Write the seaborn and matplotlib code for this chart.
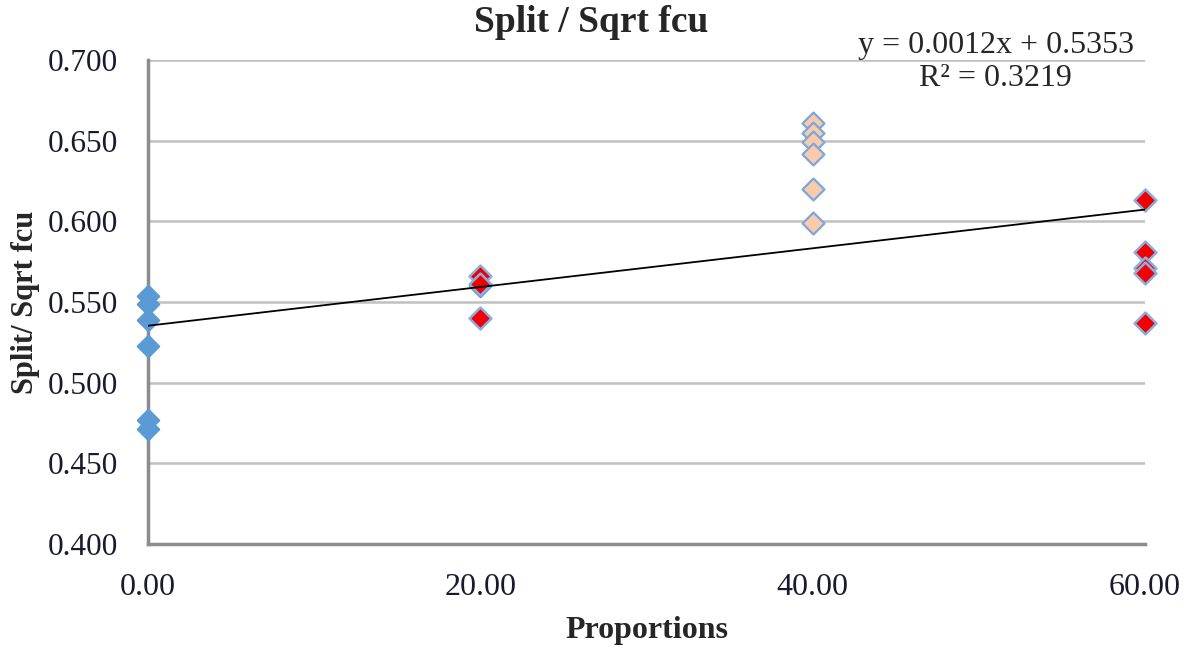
import numpy as np
import pandas as pd
import matplotlib
matplotlib.use("Agg")
import matplotlib.pyplot as plt
import seaborn as sns

# ---- data ----
x_blue = [0, 0, 0, 0, 0, 0, 20]
y_blue = [0.554, 0.549, 0.539, 0.523, 0.477, 0.471, 0.560]
x_peach = [40, 40, 40, 40, 40, 40]
y_peach = [0.661, 0.655, 0.649, 0.642, 0.620, 0.599]
x_red = [20, 20, 20, 60, 60, 60, 60, 60]
y_red = [0.566, 0.561, 0.540, 0.613, 0.581, 0.571, 0.568, 0.537]
slope, intercept = 0.0012, 0.5353
r2 = 0.3219

title = "Split / Sqrt fcu"
x_label = "Proportions"
y_label = "Split/ Sqrt fcu"
x_ticks = [0, 20, 40, 60]
y_ticks = [0.400, 0.450, 0.500, 0.550, 0.600, 0.650, 0.700]

sns.set_theme(style="white")
plt.rcParams['font.family'] = ['Liberation Serif', 'DejaVu Serif']

fig = plt.figure(figsize=(11.85, 6.46), dpi=100)
ax = fig.add_axes([0.1249, 0.1579, 0.9662 - 0.1249, 0.9071 - 0.1579])

df_b = pd.DataFrame({"x": x_blue, "y": y_blue})
df_p = pd.DataFrame({"x": x_peach, "y": y_peach})
df_r = pd.DataFrame({"x": x_red, "y": y_red})

ax.set_ylim(0.400, 0.700)
ax.set_xlim(0, 60)
ax.set_yticks(y_ticks)
ax.set_xticks(x_ticks)
ax.yaxis.grid(True, color="#C0C0C0", linewidth=1.8, zorder=0)
ax.set_axisbelow(True)

sns.scatterplot(data=df_b, x="x", y="y", marker="D", s=120, color="#5B9BD5",
                edgecolor="#5B9BD5", linewidth=1.5, ax=ax, zorder=3, clip_on=False)
sns.scatterplot(data=df_p, x="x", y="y", marker="D", s=125, color="#F8CBAD",
                edgecolor="#7EA6DA", linewidth=1.6, ax=ax, zorder=3, clip_on=False)
sns.scatterplot(data=df_r, x="x", y="y", marker="D", s=125, color="#F00000",
                edgecolor="#8AB0E0", linewidth=1.8, ax=ax, zorder=4, clip_on=False)

xs = np.array([min(x_ticks), max(x_ticks)])
ax.plot(xs, slope * xs + intercept, color="black", linewidth=1.3, zorder=5)

ax.set_yticklabels([f"{v:.3f}" for v in y_ticks])
ax.set_xticklabels([f"{v:.2f}" for v in x_ticks])
ax.tick_params(axis="both", labelsize=23, colors="#1a1a2e", length=0)
ax.tick_params(axis="y", labelsize=22.5, pad=21.5)
ax.tick_params(axis="x", pad=21)

for s in ["top", "right"]:
    ax.spines[s].set_visible(False)
for s in ["left", "bottom"]:
    ax.spines[s].set_color("#8C8C8C")
    ax.spines[s].set_linewidth(2.5)

fig.text(0.4985, 1 - 22 / 646, title, ha="center", va="center",
         fontsize=27, fontweight="bold")
ax.set_xlabel(x_label, fontsize=23, fontweight="bold", labelpad=10)
ax.set_ylabel(y_label, fontsize=22, fontweight="bold")
ax.yaxis.set_label_coords(-0.108, 0.5)

ax.text(0.8505, 1.03, f"y = {slope}x + {intercept}", transform=ax.transAxes,
        ha="center", va="center", fontsize=23)
ax.text(0.8505, 0.962, f"R² = {r2}", transform=ax.transAxes,
        ha="center", va="center", fontsize=23)

fig.savefig("out.png", dpi=100)
